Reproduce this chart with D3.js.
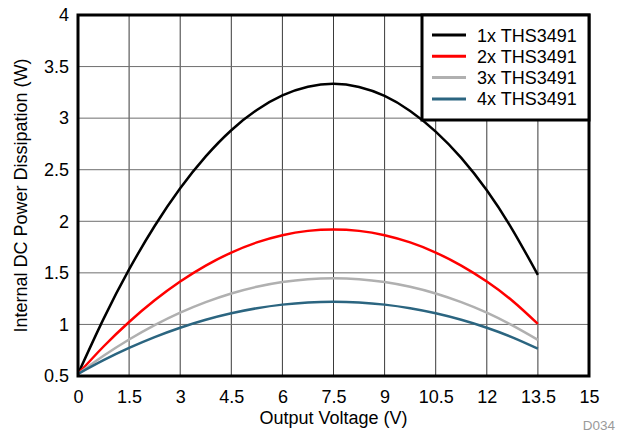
<!DOCTYPE html>
<html>
<head>
<meta charset="utf-8">
<script src="https://cdn.jsdelivr.net/npm/d3@7"></script>
<style>
  body { margin: 0; background: #fff; }
  text { font-family: "Liberation Sans", Arial, sans-serif; }
</style>
</head>
<body>
<div id="container"></div>
<script>
'use strict';

//Data
const voltage = [0, 0.75, 1.5, 2.25, 3, 3.75, 4.5, 5.25, 6, 6.75, 7.5, 8.25, 9, 9.75, 10.5, 11.25, 12, 12.75, 13.5];
const p1x = [0.52, 1.054, 1.533, 1.954, 2.32, 2.629, 2.883, 3.079, 3.22, 3.304, 3.333, 3.302, 3.215, 3.07, 2.87, 2.615, 2.30, 1.92, 1.48];
const p2x = [0.52, 0.786, 1.024, 1.234, 1.416, 1.570, 1.697, 1.795, 1.865, 1.907, 1.921, 1.907, 1.865, 1.795, 1.697, 1.570, 1.416, 1.230, 1.005];
const p3x = [0.52, 0.696, 0.854, 0.993, 1.114, 1.216, 1.300, 1.365, 1.411, 1.439, 1.448, 1.439, 1.411, 1.365, 1.300, 1.216, 1.114, 0.990, 0.850];
const p4x = [0.52, 0.653, 0.772, 0.877, 0.968, 1.045, 1.108, 1.157, 1.192, 1.213, 1.220, 1.213, 1.192, 1.157, 1.108, 1.045, 0.968, 0.875, 0.765];
const seriesNames = ['1x THS3491', '2x THS3491', '3x THS3491', '4x THS3491'];
const seriesColors = ['#000000', '#ff0000', '#b0b0b0', '#2b6580'];
const xTicks = [0, 1.5, 3, 4.5, 6, 7.5, 9, 10.5, 12, 13.5, 15];
const yTicks = [0.5, 1, 1.5, 2, 2.5, 3, 3.5, 4];

//Sizing
const VIZ = {
    WIDTH: 617,
    HEIGHT: 437,
    MARGIN: { LEFT: 78, TOP: 15, RIGHT: 28, BOTTOM: 61 }
};
const width = VIZ.WIDTH - VIZ.MARGIN.LEFT - VIZ.MARGIN.RIGHT;
const height = VIZ.HEIGHT - VIZ.MARGIN.TOP - VIZ.MARGIN.BOTTOM;
const FONT = '18px';

const svg = d3.select('#container')
    .append('svg')
    .attr('width', VIZ.WIDTH)
    .attr('height', VIZ.HEIGHT);
const vis = svg.append('g')
    .attr('transform', `translate(${VIZ.MARGIN.LEFT} ${VIZ.MARGIN.TOP})`);

//Scales
const x = d3.scaleLinear().domain([0, 15]).range([0, width]);
const y = d3.scaleLinear().domain([0.5, 4]).range([height, 0]);

//Grid
vis.append('g')
    .selectAll('line')
    .data(xTicks)
    .join('line')
    .attr('x1', d => x(d)).attr('x2', d => x(d))
    .attr('y1', 0).attr('y2', height)
    .attr('stroke', '#3a3a3a')
    .attr('stroke-width', 1);
vis.append('g')
    .selectAll('line')
    .data(yTicks)
    .join('line')
    .attr('x1', 0).attr('x2', width)
    .attr('y1', d => y(d)).attr('y2', d => y(d))
    .attr('stroke', '#6e6e6e')
    .attr('stroke-width', 1);

//Axes
const xAxis = vis.append('g')
    .attr('transform', `translate(0 ${height})`)
    .call(d3.axisBottom(x).tickValues(xTicks).tickSize(0).tickPadding(14).tickFormat(d3.format('')));
const yAxis = vis.append('g')
    .call(d3.axisLeft(y).tickValues(yTicks).tickSize(0).tickPadding(9).tickFormat(d3.format('')));
[xAxis, yAxis].forEach(a => {
    a.select('.domain').remove();
    a.selectAll('text')
        .attr('fill', '#000')
        .style('font-size', FONT)
        .style('font-family', '"Liberation Sans", Arial, sans-serif');
});

//Lines
const allSeries = [p1x, p2x, p3x, p4x];
const line = d3.line()
    .x((d, i) => x(voltage[i]))
    .y(d => y(d))
    .curve(d3.curveNatural);
vis.append('g')
    .selectAll('path')
    .data(allSeries)
    .join('path')
    .attr('d', d => line(d))
    .attr('fill', 'none')
    .attr('stroke', (d, i) => seriesColors[i])
    .attr('stroke-width', 2.5);

//Frame
vis.append('rect')
    .attr('x', 0).attr('y', 0)
    .attr('width', width).attr('height', height)
    .attr('fill', 'none')
    .attr('stroke', '#000')
    .attr('stroke-width', 3);

//Legend
const legend = vis.append('g')
    .attr('transform', `translate(${width - 167} 0)`);
legend.append('rect')
    .attr('x', 0).attr('y', 0)
    .attr('width', 167).attr('height', 105)
    .attr('fill', '#fff')
    .attr('stroke', '#000')
    .attr('stroke-width', 3);
seriesNames.forEach((name, i) => {
    const row = legend.append('g')
        .attr('transform', `translate(0 ${20 + i * 21.3})`);
    row.append('line')
        .attr('x1', 10).attr('x2', 44)
        .attr('y1', 0).attr('y2', 0)
        .attr('stroke', seriesColors[i])
        .attr('stroke-width', 3);
    row.append('text')
        .attr('x', 55).attr('y', 6.5)
        .style('font-size', FONT)
        .attr('fill', '#000')
        .text(name);
});

//Axis titles
svg.append('text')
    .attr('x', VIZ.MARGIN.LEFT + width / 2)
    .attr('y', 424)
    .attr('text-anchor', 'middle')
    .style('font-size', FONT)
    .text('Output Voltage (V)');
svg.append('text')
    .attr('transform', `translate(27 ${VIZ.MARGIN.TOP + height / 2}) rotate(-90)`)
    .attr('text-anchor', 'middle')
    .style('font-size', FONT)
    .text('Internal DC Power Dissipation (W)');
svg.append('text')
    .attr('x', 615)
    .attr('y', 430)
    .attr('text-anchor', 'end')
    .attr('fill', '#9a9a9a')
    .style('font-size', '13.5px')
    .text('D034');
</script>
</body>
</html>
